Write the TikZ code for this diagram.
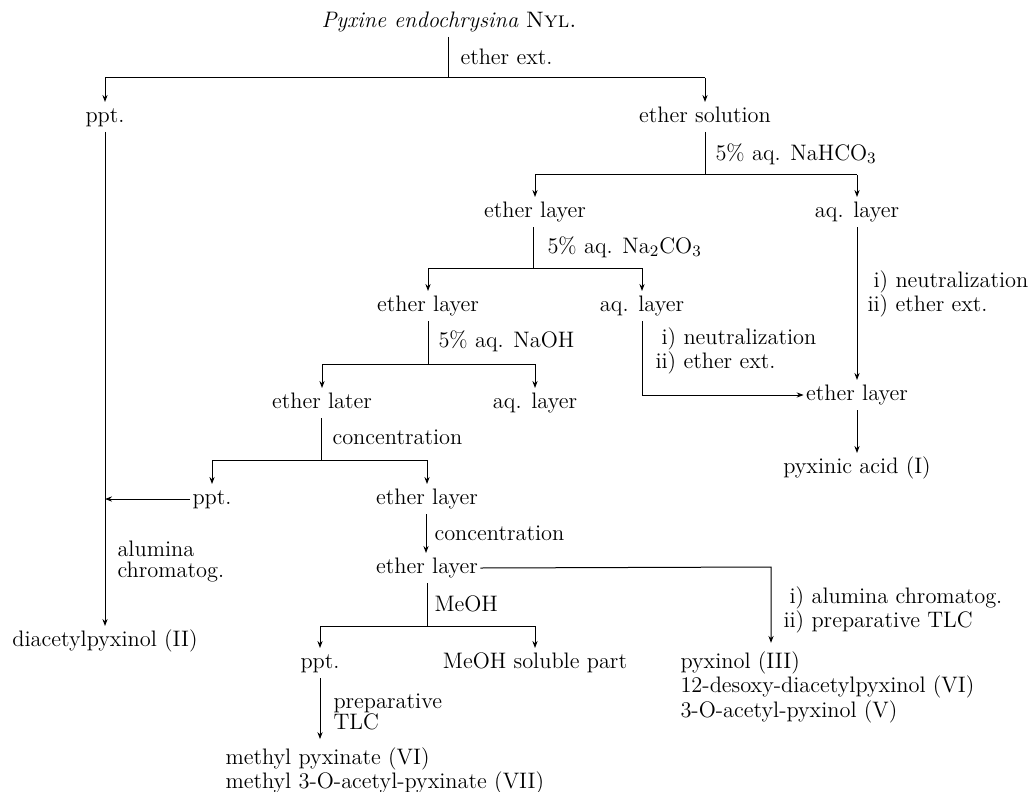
\documentclass[tikz,border=0pt]{standalone}
\usetikzlibrary{arrows.meta}
\begin{document}
\begin{tikzpicture}[x=0.5pt,y=-0.5pt,
  every path/.style={line width=0.5pt},
  every node/.style={font=\fontsize{11.2}{10.5}\selectfont},
  item/.style={inner xsep=1pt, inner ysep=2pt, text height=8pt, text depth=2.5pt},
  lbl/.style={anchor=west, inner sep=0pt, align=left},
  blk/.style={anchor=west, inner xsep=0pt, inner ysep=4pt, align=left},
  arr/.style={-{Stealth[length=3.5pt,width=2.6pt]}}]
\useasboundingbox (0,0) rectangle (1036,791);
% nodes
\node[item] (title) at (449,22) {\textit{Pyxine endochrysina} \textsc{Nyl.}};
\node[item] (ppt1) at (105,117) {ppt.};
\node[item] (esol) at (705,117) {ether solution};
\node[item] (el1) at (535,212) {ether layer};
\node[item] (aq1) at (857,212) {aq. layer};
\node[item] (el2) at (428,306) {ether layer};
\node[item] (aq2) at (642,306) {aq. layer};
\node[item] (el3) at (322,403) {ether later};
\node[item] (aq3) at (535,403) {aq. layer};
\node[item] (elR) at (857,395) {ether layer};
\node[item] (pyxacid) at (857,468) {pyxinic acid (I)};
\node[item] (ppt2) at (212,499) {ppt.};
\node[item] (el4) at (427,499) {ether layer};
\node[item] (el5) at (427,568) {ether layer};
\node[item] (ppt3) at (320,663) {ppt.};
\node[item] (meoh) at (535,663) {MeOH soluble part};
\node[item] (diac) at (105,641) {diacetylpyxinol (II)};
\node[blk] (pyxinol) at (680,687) {pyxinol (III)\\12-desoxy-diacetylpyxinol (VI)\\3-O-acetyl-pyxinol (V)};
\node[blk] (methyl) at (225,771) {methyl pyxinate (VI)\\methyl 3-O-acetyl-pyxinate (VII)};
% labels
\node[lbl] (l1) at (460,57) {ether ext.};
\node[lbl] (l2) at (715,154) {5\% aq. NaHCO$_3$};
\node[lbl] (l3) at (547,247) {5\% aq. Na$_2$CO$_3$};
\node[lbl] (l4) at (438,341) {5\% aq. NaOH};
\node[lbl] (l5) at (332,437) {concentration};
\node[lbl] (l6) at (434,533) {concentration};
\node[lbl] (l7) at (434,604) {MeOH};
\node[lbl] (l8) at (867,294) {\phantom{i}i) neutralization\\ii) ether ext.};
\node[lbl] (l9) at (655,351) {\phantom{i}i) neutralization\\ii) ether ext.};
\node[lbl] (l10) at (783,610) {\phantom{i}i) alumina chromatog.\\ii) preparative TLC};
\node[lbl] (l11) at (117,562) {alumina\\chromatog.};
\node[lbl] (l12) at (333,712) {preparative\\TLC};
% junctions
\coordinate (j1) at (448,78);
\coordinate (j1a) at (105,78);
\coordinate (j1b) at (705,78);
\coordinate (j2) at (705,175);
\coordinate (j2a) at (535,175);
\coordinate (j2b) at (857,175);
\coordinate (j3) at (533,268);
\coordinate (j3a) at (428,268);
\coordinate (j3b) at (642,268);
\coordinate (j4) at (428,364);
\coordinate (j4a) at (322,364);
\coordinate (j4b) at (535,364);
\coordinate (j5) at (321,460);
\coordinate (j5a) at (212,460);
\coordinate (j5b) at (427,460);
\coordinate (j6) at (427,626);
\coordinate (j6a) at (320,626);
\coordinate (j6b) at (535,626);
\coordinate (j7) at (771,567);
\coordinate (j8) at (426,512);
% connectors
\draw (j1 |- title.south) -- (j1);
\draw (j1a) -- (j1b);
\draw[arr] (j1a) -- (j1a |- ppt1.north);
\draw[arr] (j1b) -- (j1b |- esol.north);
\draw[arr] (ppt1.south) -- (ppt1.south |- diac.north);
\draw (j2 |- esol.south) -- (j2);
\draw (j2a) -- (j2b);
\draw[arr] (j2a) -- (j2a |- el1.north);
\draw[arr] (j2b) -- (j2b |- aq1.north);
\draw (j3 |- el1.south) -- (j3);
\draw (j3a) -- (j3b);
\draw[arr] (j3a) -- (j3a |- el2.north);
\draw[arr] (j3b) -- (j3b |- aq2.north);
\draw[arr] (aq1.south -| j2b) -- (j2b |- elR.north);
\draw[arr] (j3b |- aq2.south) -- (j3b |- elR.west) -- (elR.west);
\draw[arr] (elR.south) -- (elR.south |- pyxacid.north);
\draw (j4 |- el2.south) -- (j4);
\draw (j4a) -- (j4b);
\draw[arr] (j4a) -- (j4a |- el3.north);
\draw[arr] (j4b) -- (j4b |- aq3.north);
\draw (j5 |- el3.south) -- (j5);
\draw (j5a) -- (j5b);
\draw[arr] (j5a) -- (j5a |- ppt2.north);
\draw[arr] (j5b) -- (j5b |- el4.north);
\draw[arr] (ppt2.west) -- (ppt2.west -| diac.north);
\draw[arr] (j8 |- el4.south) -- (j8 |- el5.north);
\draw[arr] (el5.east) -- (j7) -- (j7 |- pyxinol.north);
\draw (j6 |- el5.south) -- (j6);
\draw (j6a) -- (j6b);
\draw[arr] (j6a) -- (j6a |- ppt3.north);
\draw[arr] (j6b) -- (j6b |- meoh.north);
\draw[arr] (j6a |- ppt3.south) -- (j6a |- methyl.north);
\end{tikzpicture}
\end{document}
